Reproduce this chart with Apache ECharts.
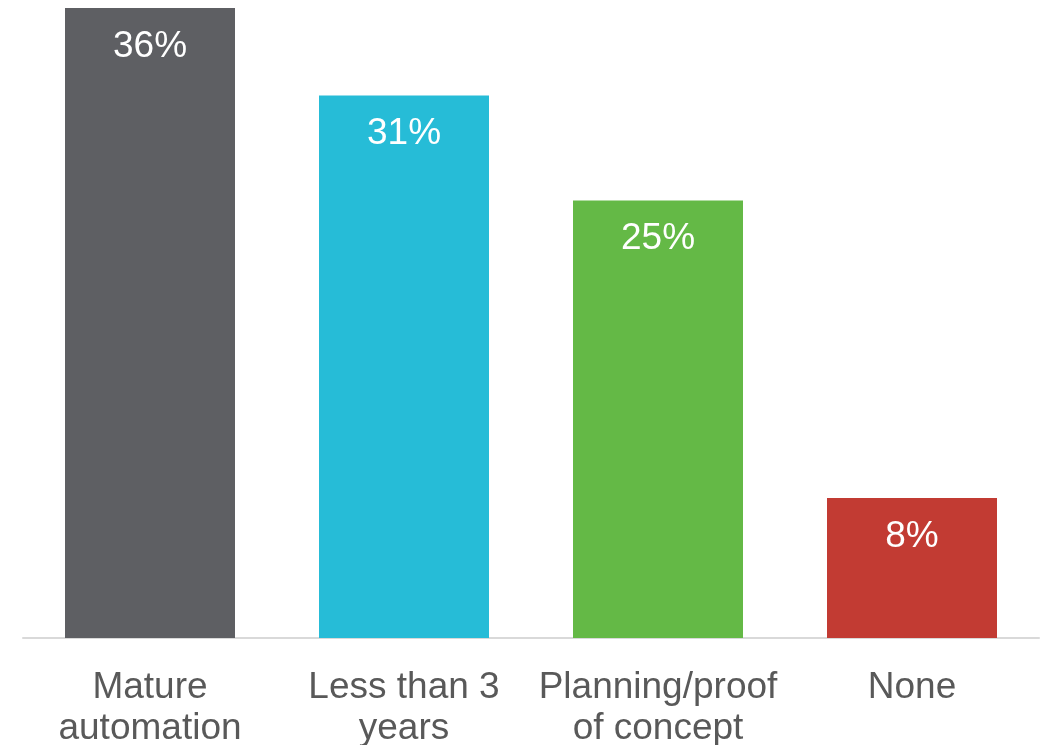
<!DOCTYPE html>
<html>
<head>
<meta charset="utf-8">
<script src="https://cdn.jsdelivr.net/npm/echarts@6/dist/echarts.min.js"></script>
<style>html,body{margin:0;padding:0;background:#fff;}#c{width:1043px;height:745px;}</style>
</head>
<body>
<div id="c"></div>
<script>
const categories = ["Mature\nautomation", "Less than 3\nyears", "Planning/proof\nof concept", "None"];
const values = [36, 31, 25, 8];
const colors = ["#5e5f63", "#26bcd7", "#64b946", "#c23b33"];

const chart = echarts.init(document.getElementById('c'), null, {renderer: 'canvas'});
chart.setOption({
  animation: false,
  grid: {left: 23, right: 4, top: 8, bottom: 107, containLabel: false, outerBoundsMode: 'none'},
  xAxis: {
    type: 'category',
    data: categories,
    axisLine: {show: true, lineStyle: {color: '#d9d9d9', width: 2}},
    axisTick: {show: false},
    axisLabel: {color: '#595959', fontSize: 37, fontWeight: 'normal', fontFamily: 'Liberation Sans, Arial, sans-serif', margin: 29, lineHeight: 41, interval: 0}
  },
  yAxis: {type: 'value', min: 0, max: 36, show: false, splitLine: {show: false}},
  series: [{
    type: 'bar',
    barWidth: 170,
    data: values.map((v, i) => ({value: v, itemStyle: {color: colors[i]}})),
    label: {
      show: true, position: 'insideTop', distance: 20,
      formatter: '{c}%', color: '#fff', fontSize: 37, fontWeight: 'normal',
      fontFamily: 'Liberation Sans, Arial, sans-serif'
    }
  }]
});
</script>
</body>
</html>
